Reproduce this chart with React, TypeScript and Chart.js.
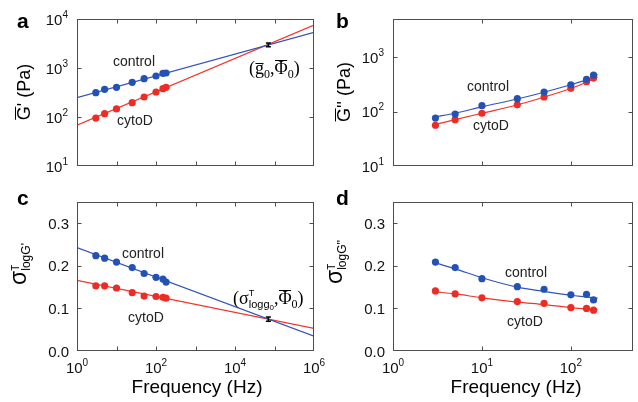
import React, { useEffect, useRef } from "react";
import { Chart, registerables } from "chart.js";
Chart.register(...registerables);

// ---------------- data ----------------
const freqs = [3, 5, 10, 25, 50, 100, 150, 180];
const fitFreqs = [1, 1e6];
const curveFreqs = [3, 5, 10, 25, 50, 100, 150, 200];

// panel a: G' (Pa)
const gpControl = [313, 367, 404, 511, 605, 687, 780, 790];
const gpCyto = [95, 117, 146, 196, 256, 324, 378, 404];
const gpControlFit = [248, 5350];
const gpCytoFit = [68, 7550];
const crossFreq = [7e4];
const gpCross = [2950];
const gpCrossErr = [2700, 3230];

// panel b: G'' (Pa)
const gppControl = [76, 90, 128, 172, 228, 310, 390, 468];
const gppCyto = [56, 71, 93, 133, 185, 267, 352, 412];
const gppControlFit = [80, 93, 122, 170, 226, 310, 385, 480];
const gppCytoFit = [58, 71, 93, 132, 184, 265, 345, 430];

// panel c: sigma logG'
const sgpControl = [0.224, 0.218, 0.209, 0.196, 0.182, 0.173, 0.169, 0.162];
const sgpCyto = [0.153, 0.153, 0.148, 0.137, 0.129, 0.128, 0.126, 0.124];
const sgpControlFit = [0.243, 0.035];
const sgpCytoFit = [0.166, 0.053];
const sgpCross = [0.075];
const sgpCrossErr = [0.07, 0.08];

// panel d: sigma logG''
const sgppControl = [0.209, 0.196, 0.17, 0.151, 0.145, 0.132, 0.133, 0.12];
const sgppCyto = [0.141, 0.134, 0.125, 0.116, 0.112, 0.102, 0.1, 0.096];
const sgppControlFit = [0.207, 0.193, 0.172, 0.15, 0.14, 0.131, 0.127, 0.124];
const sgppCytoFit = [0.139, 0.134, 0.125, 0.115, 0.109, 0.102, 0.099, 0.097];

// ticks
const logTicksA = [10, 100, 1000, 10000];
const logTicksB = [10, 100, 1000];
const linTicks = [0, 0.1, 0.2, 0.3];
const decadesWide = [1, 10, 100, 1e3, 1e4, 1e5, 1e6];
const decadesNarrow = [1, 10, 100];
const xLabelsWide = [1, 100, 1e4, 1e6];
const xLabelsNarrow = [1, 10, 100];

// ---------------- styles ----------------
const W = 638;
const H = 402;
const SANS = '"Liberation Sans", Arial, Helvetica, sans-serif';
const SERIF = '"Liberation Serif", "Times New Roman", serif';
const BLUE = "#2452b4";
const RED = "#ee2b25";
const BLUE_L = "#3355b8";
const RED_L = "#f0362c";
const FRAME = "#4d4d4d";

type Part = { t: string; size: number; dy?: number; bold?: boolean; serif?: boolean; bar?: number; stack?: boolean };

function font(p: Part) {
  return `${p.bold ? "bold " : ""}${p.size}px ${p.serif ? SERIF : SANS}`;
}

function measure(ctx: CanvasRenderingContext2D, parts: Part[]) {
  let w = 0;
  let stackW = 0;
  for (const p of parts) {
    ctx.font = font(p);
    const pw = ctx.measureText(p.t).width;
    if (p.stack) {
      stackW = Math.max(stackW, pw);
    } else {
      w += Math.max(pw, stackW);
      stackW = 0;
    }
  }
  return w + stackW;
}

function drawParts(ctx: CanvasRenderingContext2D, parts: Part[], x: number, y: number, align: string) {
  const w = measure(ctx, parts);
  let cx = align === "left" ? x : align === "center" ? x - w / 2 : x - w;
  let stackW = 0;
  ctx.textAlign = "left";
  ctx.textBaseline = "alphabetic";
  for (const p of parts) {
    ctx.font = font(p);
    const pw = ctx.measureText(p.t).width;
    const yy = y + (p.dy || 0);
    ctx.fillText(p.t, cx, yy);
    if (p.bar !== undefined) {
      ctx.save();
      ctx.strokeStyle = ctx.fillStyle as string;
      ctx.lineWidth = 1;
      ctx.beginPath();
      const by = Math.round(yy - p.bar) + 0.5;
      ctx.moveTo(cx + 0.5, by);
      ctx.lineTo(cx + pw - 0.5, by);
      ctx.stroke();
      ctx.restore();
    }
    if (p.stack) {
      stackW = Math.max(stackW, pw);
    } else {
      cx += Math.max(pw, stackW);
      stackW = 0;
    }
  }
}

function drawRotated(ctx: CanvasRenderingContext2D, parts: Part[], baseX: number, centerY: number) {
  ctx.save();
  ctx.translate(baseX, centerY);
  ctx.rotate(-Math.PI / 2);
  drawParts(ctx, parts, 0, 0, "center");
  ctx.restore();
}

const sup = (e: string): Part[] => [
  { t: "10", size: 15 },
  { t: e, size: 10, dy: -7 },
];
const expOf = (v: number) => String(Math.round(Math.log10(v)));

type Series = { x: number[]; y: number[]; color: string; line: boolean; curve?: boolean };

interface Panel {
  area: [number, number, number, number];
  xMin: number;
  xMax: number;
  yLog: boolean;
  yMin: number;
  yMax: number;
  xTicks: number[];
  yTicks: number[];
  xLabels: number[];
  series: Series[];
  err?: { x: number; y: number; lo: number; hi: number };
  texts: (ctx: CanvasRenderingContext2D) => void;
}

const panels: Panel[] = [
  {
    area: [77, 19, 314, 166],
    xMin: 1,
    xMax: 1e6,
    yLog: true,
    yMin: 10,
    yMax: 1e4,
    xTicks: decadesWide,
    yTicks: logTicksA,
    xLabels: [],
    series: [
      { x: freqs, y: gpControl, color: BLUE, line: false },
      { x: freqs, y: gpCyto, color: RED, line: false },
      { x: fitFreqs, y: gpControlFit, color: BLUE_L, line: true },
      { x: fitFreqs, y: gpCytoFit, color: RED_L, line: true },
    ],
    err: { x: crossFreq[0], y: gpCross[0], lo: gpCrossErr[0], hi: gpCrossErr[1] },
    texts: (ctx) => {
      ctx.fillStyle = "#000";
      drawParts(ctx, [{ t: "a", size: 21, bold: true }], 17, 28, "left");
      drawRotated(ctx, [{ t: "G", size: 18, bar: 15 }, { t: "' (Pa)", size: 18 }], 30, 92);
      ctx.fillStyle = "#222";
      drawParts(ctx, [{ t: "control", size: 14 }], 113, 66, "left");
      drawParts(ctx, [{ t: "cytoD", size: 14 }], 117, 125, "left");
      ctx.fillStyle = "#000";
      drawParts(
        ctx,
        [
          { t: "(", size: 18, serif: true },
          { t: "g", size: 18, serif: true, bar: 11 },
          { t: "0", size: 12, serif: true, dy: 4 },
          { t: ",", size: 18, serif: true },
          { t: "Φ", size: 18, serif: true, bar: 14 },
          { t: "0", size: 12, serif: true, dy: 4 },
          { t: ")", size: 18, serif: true },
        ],
        249,
        74,
        "left"
      );
    },
  },
  {
    area: [393, 19, 633, 166],
    xMin: 1,
    xMax: 500,
    yLog: true,
    yMin: 10,
    yMax: 5000,
    xTicks: decadesNarrow,
    yTicks: logTicksB,
    xLabels: [],
    series: [
      { x: freqs, y: gppControl, color: BLUE, line: false },
      { x: freqs, y: gppCyto, color: RED, line: false },
      { x: curveFreqs, y: gppControlFit, color: BLUE_L, line: true, curve: true },
      { x: curveFreqs, y: gppCytoFit, color: RED_L, line: true, curve: true },
    ],
    texts: (ctx) => {
      ctx.fillStyle = "#000";
      drawParts(ctx, [{ t: "b", size: 21, bold: true }], 336, 28, "left");
      drawRotated(ctx, [{ t: "G", size: 18, bar: 15 }, { t: "'' (Pa)", size: 18 }], 350, 92);
      ctx.fillStyle = "#222";
      drawParts(ctx, [{ t: "control", size: 14 }], 467, 90.5, "left");
      drawParts(ctx, [{ t: "cytoD", size: 14 }], 473, 130, "left");
    },
  },
  {
    area: [77, 202, 314, 351],
    xMin: 1,
    xMax: 1e6,
    yLog: false,
    yMin: 0,
    yMax: 0.35,
    xTicks: decadesWide,
    yTicks: linTicks,
    xLabels: xLabelsWide,
    series: [
      { x: freqs, y: sgpControl, color: BLUE, line: false },
      { x: freqs, y: sgpCyto, color: RED, line: false },
      { x: fitFreqs, y: sgpControlFit, color: BLUE_L, line: true },
      { x: fitFreqs, y: sgpCytoFit, color: RED_L, line: true },
    ],
    err: { x: crossFreq[0], y: sgpCross[0], lo: sgpCrossErr[0], hi: sgpCrossErr[1] },
    texts: (ctx) => {
      ctx.fillStyle = "#000";
      drawParts(ctx, [{ t: "c", size: 21, bold: true }], 17, 205, "left");
      drawRotated(
        ctx,
        [
          { t: "σ", size: 23 },
          { t: "T", size: 10, dy: -7, stack: true },
          { t: "logG'", size: 12, dy: 4 },
        ],
        26,
        264
      );
      drawParts(ctx, [{ t: "Frequency (Hz)", size: 19 }], 197, 393, "center");
      ctx.fillStyle = "#222";
      drawParts(ctx, [{ t: "control", size: 14 }], 122, 258, "left");
      drawParts(ctx, [{ t: "cytoD", size: 14 }], 128, 322, "left");
      ctx.fillStyle = "#000";
      drawParts(
        ctx,
        [
          { t: "(", size: 18, serif: true },
          { t: "σ", size: 18, serif: true },
          { t: "T", size: 9, dy: -8, stack: true },
          { t: "logg", size: 11, dy: 4 },
          { t: "0", size: 8, dy: 6 },
          { t: ",", size: 18, serif: true },
          { t: "Φ", size: 18, serif: true, bar: 14 },
          { t: "0", size: 12, serif: true, dy: 4 },
          { t: ")", size: 18, serif: true },
        ],
        233,
        304,
        "left"
      );
    },
  },
  {
    area: [393, 202, 633, 351],
    xMin: 1,
    xMax: 500,
    yLog: false,
    yMin: 0,
    yMax: 0.35,
    xTicks: decadesNarrow,
    yTicks: linTicks,
    xLabels: xLabelsNarrow,
    series: [
      { x: freqs, y: sgppControl, color: BLUE, line: false },
      { x: freqs, y: sgppCyto, color: RED, line: false },
      { x: curveFreqs, y: sgppControlFit, color: BLUE_L, line: true, curve: true },
      { x: curveFreqs, y: sgppCytoFit, color: RED_L, line: true, curve: true },
    ],
    texts: (ctx) => {
      ctx.fillStyle = "#000";
      drawParts(ctx, [{ t: "d", size: 21, bold: true }], 336, 205, "left");
      drawRotated(
        ctx,
        [
          { t: "σ", size: 23 },
          { t: "T", size: 10, dy: -7, stack: true },
          { t: "logG''", size: 12, dy: 4 },
        ],
        342,
        262
      );
      drawParts(ctx, [{ t: "Frequency (Hz)", size: 19 }], 516, 393, "center");
      ctx.fillStyle = "#222";
      drawParts(ctx, [{ t: "control", size: 14 }], 505, 276.5, "left");
      drawParts(ctx, [{ t: "cytoD", size: 14 }], 507, 325.5, "left");
    },
  },
];

function makeChart(canvas: HTMLCanvasElement, p: Panel) {
  const [l, t, r, b] = p.area;
  const datasets: any[] = p.series.map((s) => ({
    data: s.x.map((v, i) => ({ x: v, y: s.y[i] })),
    showLine: s.line,
    borderColor: s.color,
    backgroundColor: s.color,
    borderWidth: s.line ? 1.2 : 0,
    pointRadius: s.line ? 0 : 3.6,
    pointHoverRadius: 0,
    cubicInterpolationMode: s.curve ? "monotone" : "default",
    tension: 0,
    order: s.line ? 2 : 1,
  }));

  const framePlugin = {
    id: "frame" + l + t,
    afterDatasetsDraw(chart: any) {
      const ctx: CanvasRenderingContext2D = chart.ctx;
      const xs = chart.scales.x;
      const ys = chart.scales.y;
      const ca = chart.chartArea;
      // error bar
      if (p.err) {
        const ex = xs.getPixelForValue(p.err.x);
        const y1 = ys.getPixelForValue(p.err.lo);
        const y2 = ys.getPixelForValue(p.err.hi);
        ctx.save();
        ctx.strokeStyle = "#000";
        ctx.lineWidth = 1.5;
        ctx.beginPath();
        ctx.moveTo(ex, y1);
        ctx.lineTo(ex, y2);
        ctx.moveTo(ex - 2.5, y1);
        ctx.lineTo(ex + 2.5, y1);
        ctx.moveTo(ex - 2.5, y2);
        ctx.lineTo(ex + 2.5, y2);
        ctx.stroke();
        ctx.restore();
      }
      ctx.save();
      ctx.strokeStyle = FRAME;
      ctx.lineWidth = 1;
      const L = Math.round(ca.left) + 0.5;
      const R = Math.round(ca.right) - 0.5;
      const T = Math.round(ca.top) + 0.5;
      const B = Math.round(ca.bottom) - 0.5;
      ctx.strokeRect(L, T, R - L, B - T);
      const TL = 4;
      ctx.beginPath();
      for (const v of p.xTicks) {
        const x = Math.round(xs.getPixelForValue(v)) + 0.5;
        if (x <= L + 1 || x >= R - 1) continue;
        ctx.moveTo(x, B);
        ctx.lineTo(x, B - TL);
        ctx.moveTo(x, T);
        ctx.lineTo(x, T + TL);
      }
      for (const v of p.yTicks) {
        const y = Math.round(ys.getPixelForValue(v)) + 0.5;
        if (y <= T + 1 || y >= B - 1) continue;
        ctx.moveTo(L, y);
        ctx.lineTo(L + TL, y);
        ctx.moveTo(R, y);
        ctx.lineTo(R - TL, y);
      }
      ctx.stroke();
      ctx.restore();

      ctx.save();
      ctx.fillStyle = "#111";
      for (const v of p.yTicks) {
        const y = ys.getPixelForValue(v);
        if (p.yLog) {
          drawParts(ctx, sup(expOf(v)), ca.left - 9, y + 5.5, "right");
        } else {
          drawParts(ctx, [{ t: v.toFixed(1), size: 15 }], ca.left - 8, y + 5.5, "right");
        }
      }
      for (const v of p.xLabels) {
        const x = xs.getPixelForValue(v);
        drawParts(ctx, sup(expOf(v)), x, ca.bottom + 22, "center");
      }
      p.texts(ctx);
      ctx.restore();
    },
  };

  return new Chart(canvas, {
    type: "scatter",
    data: { datasets },
    options: {
      animation: false,
      responsive: false,
      maintainAspectRatio: false,
      events: [],
      layout: { padding: { left: l, top: t, right: W - r, bottom: H - b } },
      plugins: { legend: { display: false }, tooltip: { enabled: false } },
      scales: {
        x: { type: "logarithmic", min: p.xMin, max: p.xMax, display: false },
        y: p.yLog
          ? { type: "logarithmic", min: p.yMin, max: p.yMax, display: false }
          : { type: "linear", min: p.yMin, max: p.yMax, display: false },
      },
    } as any,
    plugins: [framePlugin],
  });
}

function PanelCanvas({ p }: { p: Panel }) {
  const ref = useRef<HTMLCanvasElement>(null);
  useEffect(() => {
    if (!ref.current) return;
    const c = makeChart(ref.current, p);
    return () => c.destroy();
  }, [p]);
  return (
    <canvas
      ref={ref}
      width={W}
      height={H}
      style={{ position: "absolute", left: 0, top: 0, width: W, height: H }}
    />
  );
}

export default function App() {
  return (
    <div style={{ position: "absolute", left: 0, top: 0, width: W, height: H, background: "#fff" }}>
      {panels.map((p, i) => (
        <PanelCanvas key={i} p={p} />
      ))}
    </div>
  );
}
